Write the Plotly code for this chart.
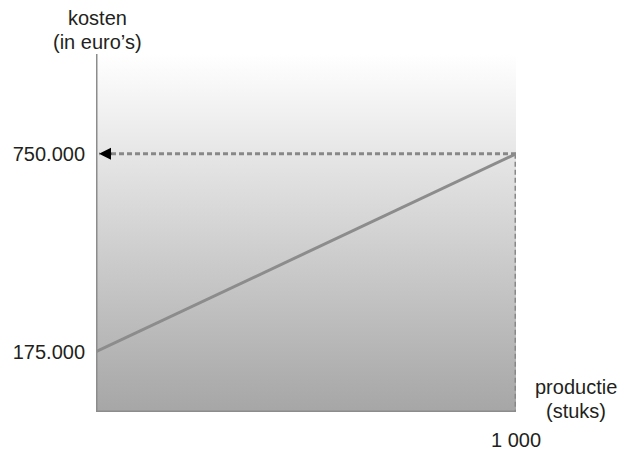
import plotly.graph_objects as go

# Production volume (pieces) and total cost (euros)
productie = [0, 1000]
kosten = [175000, 750000]

y_tickvals = [175000, 750000]
y_ticktext = ["175.000", "750.000"]
x_tickvals = [1000]
x_ticktext = ["1 000"]

Y_MAX = 1040000
TEXT = "#231f20"
GREY = "#8c8c8c"
FONT = "Liberation Sans, Arial, sans-serif"

fig = go.Figure()

# Shaded background area with a vertical grey-to-white gradient
fig.add_trace(go.Scatter(
    x=[0, 1000, 1000, 0, 0], y=[0, 0, Y_MAX, Y_MAX, 0],
    mode="lines", line=dict(width=0), fill="toself",
    fillgradient=dict(type="vertical",
                      colorscale=[[0, "#a6a6a6"], [1, "#ffffff"]],
                      start=0, stop=Y_MAX),
    hoverinfo="skip", showlegend=False,
))

# Helper lines from the end point to both axes
fig.add_trace(go.Scatter(
    x=[productie[1], 8], y=[kosten[1], kosten[1]], mode="lines",
    line=dict(color="#888888", width=3, dash="5px,3px"),
    hoverinfo="skip", showlegend=False,
))
fig.add_trace(go.Scatter(
    x=[productie[1], productie[1]], y=[kosten[1], 0], mode="lines",
    line=dict(color="#888888", width=3, dash="5px,3px"),
    hoverinfo="skip", showlegend=False,
))

# Cost line
fig.add_trace(go.Scatter(
    x=productie, y=kosten, mode="lines",
    line=dict(color=GREY, width=3),
    showlegend=False,
))

# Arrow head pointing at the cost axis
fig.add_annotation(
    x=0, y=kosten[1], ax=40, ay=kosten[1], xref="x", yref="y",
    axref="x", ayref="y", text="", showarrow=True,
    arrowhead=2, arrowsize=1.2, arrowwidth=2, arrowcolor="#000000", standoff=3,
)

# Axis lines
fig.add_shape(type="line", xref="x", yref="paper", x0=0, x1=0, y0=0, y1=1,
              line=dict(color=GREY, width=3))
fig.add_shape(type="line", xref="x", yref="y", x0=0, x1=1000, y0=0, y1=0,
              line=dict(color=GREY, width=3))

# Axis titles
for txt, x, y in [("kosten", 0.0024, 1.1006), ("(in euro’s)", 0.0024, 1.0335),
                  ("productie", 1.1429, 0.0698), ("(stuks)", 1.1429, 0.0028)]:
    fig.add_annotation(x=x, y=y, xref="paper", yref="paper", text=txt,
                       showarrow=False, xanchor="center", yanchor="middle",
                       font=dict(family=FONT, size=20, color=TEXT))

fig.update_xaxes(range=[0, 1000], showgrid=False, zeroline=False, showline=False,
                 tickvals=x_tickvals, ticktext=x_ticktext, ticks="",
                 tickfont=dict(family=FONT, size=20, color=TEXT),
                 ticklabelstandoff=14, automargin=False, fixedrange=True)
fig.update_yaxes(range=[0, Y_MAX], showgrid=False, zeroline=False, showline=False,
                 tickvals=y_tickvals, ticktext=y_ticktext, ticks="",
                 tickfont=dict(family=FONT, size=20, color=TEXT),
                 ticklabelstandoff=10, automargin=False, fixedrange=True)

fig.update_layout(
    width=628, height=450,
    margin=dict(l=96, r=112, t=54, b=38),
    paper_bgcolor="white", plot_bgcolor="white",
    showlegend=False,
)

fig.write_html("out.html", config={"displayModeBar": False})
